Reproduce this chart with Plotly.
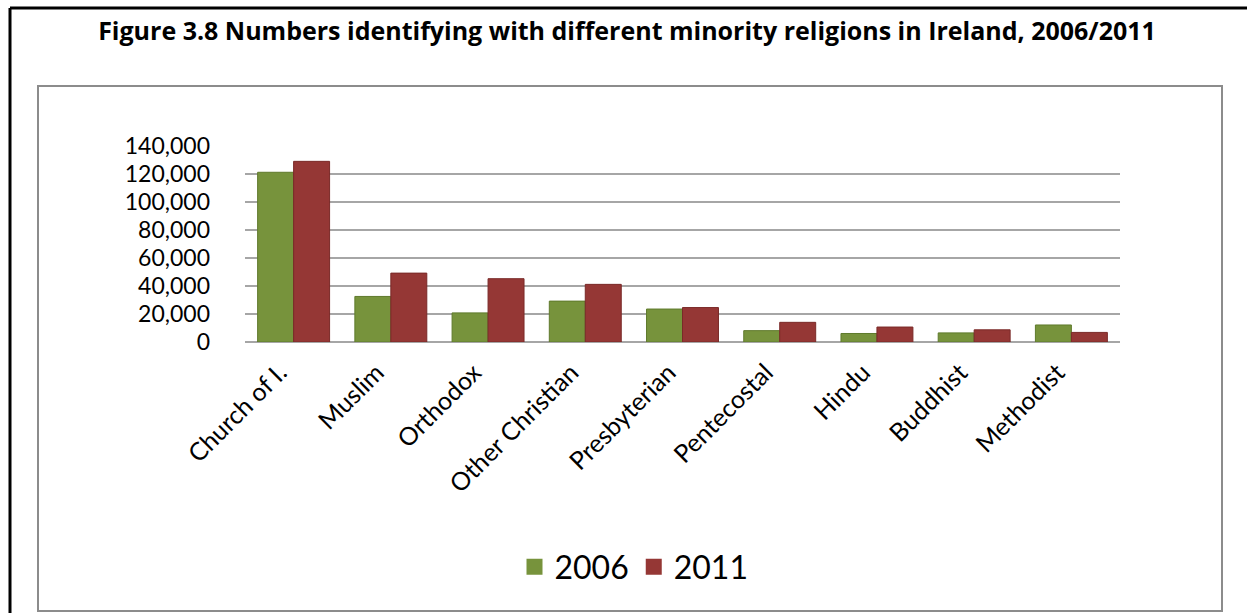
import plotly.graph_objects as go

categories = ["Church of I.", "Muslim", "Orthodox", "Other Christian", "Presbyterian",
              "Pentecostal", "Hindu", "Buddhist", "Methodist"]
values_2006 = [121229, 32539, 20798, 29206, 23546, 8116, 6082, 6516, 12160]
values_2011 = [129039, 49204, 45223, 41161, 24600, 14043, 10688, 8703, 6842]
y_ticks = [0, 20000, 40000, 60000, 80000, 100000, 120000, 140000]
y_tick_labels = ["0", "20,000", "40,000", "60,000", "80,000", "100,000", "120,000", "140,000"]

W, H = 1247, 613
ML, MR, MT, MB = 245, 127, 146, 271
pw, ph = W - ML - MR, H - MT - MB

def px(x):
    return (x - ML) / pw

def py(y):
    return (H - MB - y) / ph

font = "Lato, 'Open Sans', sans-serif"
green, red = "#77933C", "#953735"

fig = go.Figure()
fig.add_trace(go.Bar(name="2006", x=categories, y=values_2006, showlegend=False,
                     marker=dict(color=green, line=dict(color="#5f7a2c", width=1))))
fig.add_trace(go.Bar(name="2011", x=categories, y=values_2011, showlegend=False,
                     marker=dict(color=red, line=dict(color="#7a2a28", width=1))))
# legend entries with larger square swatches
fig.add_trace(go.Scatter(name="2006", x=[None], y=[None], mode="markers",
                         marker=dict(symbol="square", size=21, color=green)))
fig.add_trace(go.Scatter(name="2011", x=[None], y=[None], mode="markers",
                         marker=dict(symbol="square", size=21, color=red)))

fig.update_layout(
    width=W, height=H,
    margin=dict(l=ML, r=MR, t=MT, b=MB),
    paper_bgcolor="white", plot_bgcolor="white",
    barmode="group", bargap=0.26, bargroupgap=0.0,
    font=dict(family=font, color="black"),
    title=dict(text="<b>Figure 3.8 Numbers identifying with different minority religions in Ireland, 2006/2011</b>",
               x=627 / W, xref="container", xanchor="center", y=1 - 31 / H, yref="container",
               yanchor="middle",
               font=dict(size=25, family="'Open Sans', Lato, sans-serif", color="black")),
    xaxis=dict(tickangle=-45, tickfont=dict(size=25), showgrid=False, showline=False,
               ticks="", ticklen=0, ticklabelshift=-14, ticklabelstandoff=10),
    yaxis=dict(range=[0, 140000], tickvals=y_ticks, ticktext=y_tick_labels,
               tickfont=dict(size=23), showgrid=True, gridcolor="#a6a6a6", gridwidth=2,
               zeroline=True, zerolinecolor="#a6a6a6", zerolinewidth=2, ticks="",
               ticklabelstandoff=34),
    legend=dict(orientation="h", xref="paper", yref="paper",
                x=px(634), xanchor="center", y=py(567), yanchor="middle",
                font=dict(size=32), traceorder="normal", itemsizing="trace"),
    showlegend=True,
)

# outer black frame (top and left) and inner gray chart-area frame
fig.add_shape(type="line", xref="paper", yref="paper", x0=px(10), x1=px(1247), y0=py(8), y1=py(8),
              line=dict(color="black", width=3))
fig.add_shape(type="line", xref="paper", yref="paper", x0=px(10), x1=px(10), y0=py(8), y1=py(613),
              line=dict(color="black", width=3))
fig.add_shape(type="rect", xref="paper", yref="paper", x0=px(38), x1=px(1222), y0=py(86), y1=py(611),
              line=dict(color="#8c8c8c", width=2), layer="below")

fig.write_html("out.html")
